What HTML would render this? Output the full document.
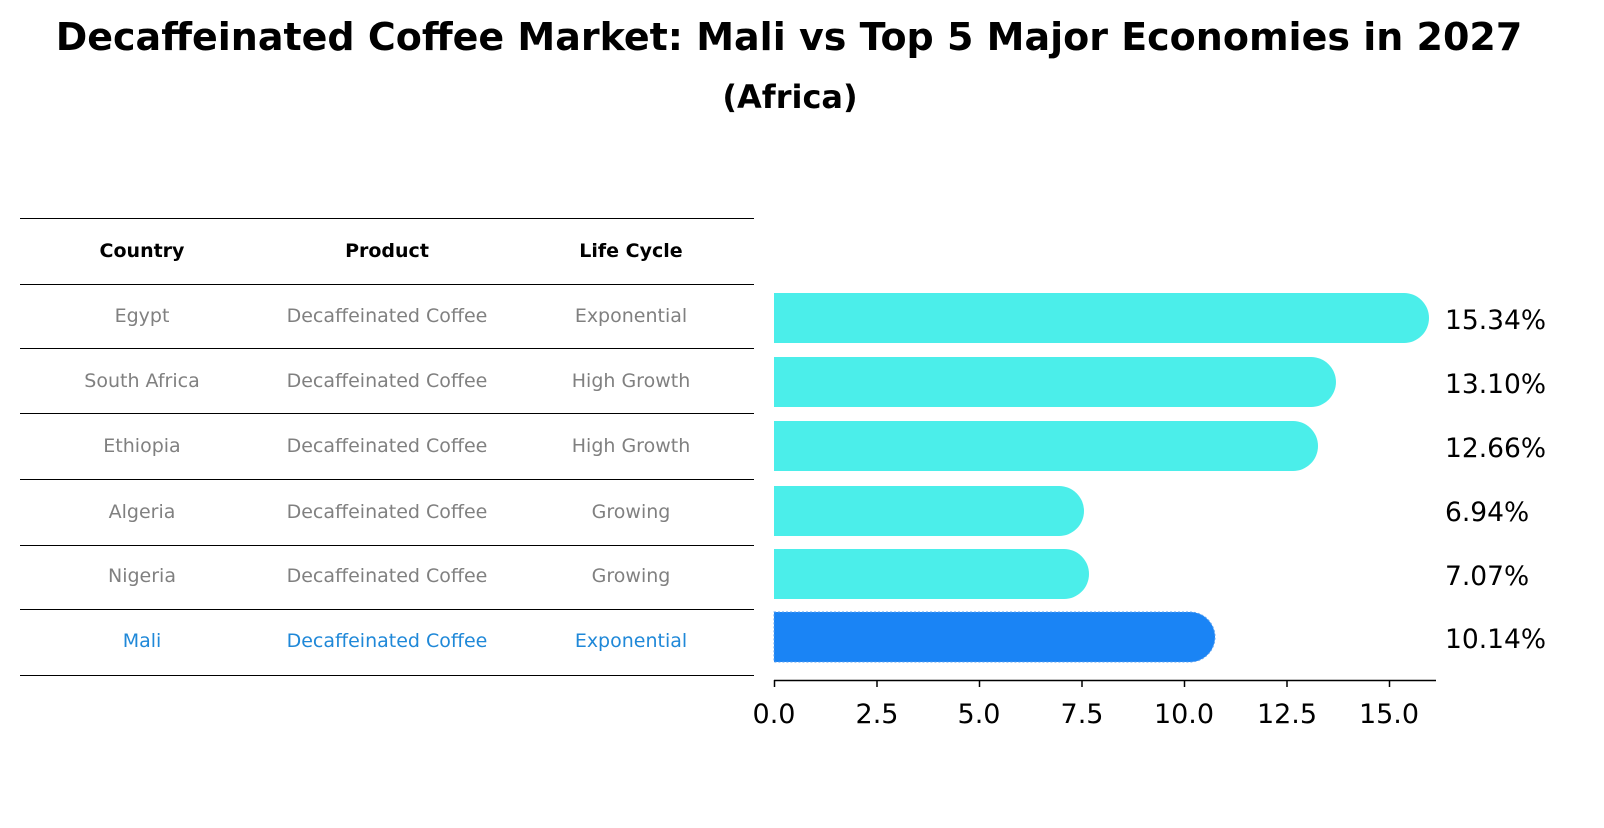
<!DOCTYPE html>
<html><head><meta charset="utf-8"><style>
body{margin:0;background:#fff;}
svg text{font-family:"DejaVu Sans","Liberation Sans",sans-serif;}
</style></head><body>
<svg width="1604" height="823" xmlns="http://www.w3.org/2000/svg">
<text x="789" y="50" text-anchor="middle" font-size="38" font-weight="bold">Decaffeinated Coffee Market: Mali vs Top 5 Major Economies in 2027</text>
<text x="790" y="108" text-anchor="middle" font-size="32" font-weight="bold">(Africa)</text>
<g stroke="#000" stroke-width="1">
<line x1="20" x2="754" y1="218.5" y2="218.5"/><line x1="20" x2="754" y1="284.5" y2="284.5"/>
<line x1="20" x2="754" y1="348.5" y2="348.5"/><line x1="20" x2="754" y1="413.5" y2="413.5"/>
<line x1="20" x2="754" y1="479.5" y2="479.5"/><line x1="20" x2="754" y1="545.5" y2="545.5"/>
<line x1="20" x2="754" y1="609.5" y2="609.5"/><line x1="20" x2="754" y1="675.5" y2="675.5"/>
</g>
<g font-size="19" text-anchor="middle">
<text x="142" y="257" font-weight="bold">Country</text><text x="387" y="257" font-weight="bold">Product</text><text x="631" y="257" font-weight="bold">Life Cycle</text>
<g fill="#808080">
<text x="142" y="322">Egypt</text><text x="387" y="322">Decaffeinated Coffee</text><text x="631" y="322">Exponential</text>
<text x="142" y="387">South Africa</text><text x="387" y="387">Decaffeinated Coffee</text><text x="631" y="387">High Growth</text>
<text x="142" y="452">Ethiopia</text><text x="387" y="452">Decaffeinated Coffee</text><text x="631" y="452">High Growth</text>
<text x="142" y="518">Algeria</text><text x="387" y="518">Decaffeinated Coffee</text><text x="631" y="518">Growing</text>
<text x="142" y="582">Nigeria</text><text x="387" y="582">Decaffeinated Coffee</text><text x="631" y="582">Growing</text>
</g>
<g fill="#1f88d8">
<text x="142" y="647">Mali</text><text x="387" y="647">Decaffeinated Coffee</text><text x="631" y="647">Exponential</text>
</g>
</g>
<g fill="#4beeea">
<path d="M774 293 H1404 A25 25 0 0 1 1404 343 H774 Z"/>
<path d="M774 357 H1311 A25 25 0 0 1 1311 407 H774 Z"/>
<path d="M774 421 H1293 A25 25 0 0 1 1293 471 H774 Z"/>
<path d="M774 486 H1059 A25 25 0 0 1 1059 536 H774 Z"/>
<path d="M774 549 H1064 A25 25 0 0 1 1064 599 H774 Z"/>
</g>
<path d="M774 612 H1190 A25 25 0 0 1 1190 662 H774 Z" fill="#1a84f5" stroke="#5aa0f0" stroke-dasharray="2 2"/>
<g font-size="26.5">
<text x="1445" y="329">15.34%</text><text x="1445" y="393">13.10%</text><text x="1445" y="457">12.66%</text>
<text x="1445" y="521">6.94%</text><text x="1445" y="585">7.07%</text><text x="1445" y="648">10.14%</text>
</g>
<line x1="774" x2="1436" y1="680.5" y2="680.5" stroke="#000" stroke-width="1.5"/>
<g stroke="#000" stroke-width="1.5">
<line x1="774.5" x2="774.5" y1="680" y2="687"/><line x1="877" x2="877" y1="680" y2="687"/>
<line x1="979.5" x2="979.5" y1="680" y2="687"/><line x1="1082" x2="1082" y1="680" y2="687"/>
<line x1="1184.5" x2="1184.5" y1="680" y2="687"/><line x1="1287" x2="1287" y1="680" y2="687"/>
<line x1="1389.5" x2="1389.5" y1="680" y2="687"/>
</g>
<g font-size="27" text-anchor="middle">
<text x="774" y="723">0.0</text><text x="877" y="723">2.5</text><text x="979" y="723">5.0</text>
<text x="1082" y="723">7.5</text><text x="1184" y="723">10.0</text><text x="1287" y="723">12.5</text><text x="1389" y="723">15.0</text>
</g>
</svg>
</body></html>
